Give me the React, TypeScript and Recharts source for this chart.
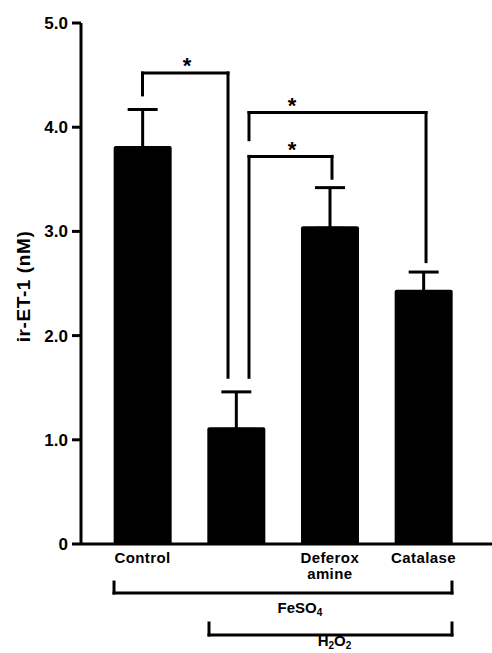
import { BarChart, Bar, XAxis, YAxis, ErrorBar, ReferenceLine, ReferenceDot } from "recharts";

const categories = ["Control", "", "Deferox\namine", "Catalase"];
const positions = [1, 2, 3, 4];
const means = [3.82, 1.12, 3.05, 2.44];
const sems = [0.35, 0.34, 0.37, 0.17];
const yTicks = [0, 1, 2, 3, 4, 5];

// significance brackets: [xLeft, xRight, yTop, yLeftEnd, yRightEnd]
const sigBrackets = [
  [1.0, 1.913, 4.52, 4.31, 1.6],
  [2.137, 4.027, 4.14, 3.88, 2.71],
  [2.137, 3.023, 3.72, 1.6, 3.51],
];
const starX = [1.475, 2.596, 2.596];
const starY = [4.63, 4.24, 3.82];

// treatment brackets under the x axis
const groupNames = ["FeSO", "H"];
const groupX1 = [0.696, 1.71];
const groupX2 = [4.304, 4.304];
const groupTop = [-0.365, -0.758];
const groupBottom = [-0.47, -0.873];
const groupLabelX = [2.681, 3.05];
const groupLabelY = [-0.662, -0.98];

const FONT = "'Liberation Sans', Arial, Helvetica, sans-serif";

const data = positions.map((pos, i) => ({
  pos,
  name: categories[i],
  value: means[i],
  // lower arm kept just inside the bar so its cap stays hidden
  err: [0.02, sems[i]],
}));

const segments: { x1: number; y1: number; x2: number; y2: number }[] = [];
sigBrackets.forEach(([xl, xr, top, yl, yr]) => {
  segments.push({ x1: xl, y1: yl, x2: xl, y2: top });
  segments.push({ x1: xl, y1: top, x2: xr, y2: top });
  segments.push({ x1: xr, y1: top, x2: xr, y2: yr });
});
groupNames.forEach((_, i) => {
  segments.push({ x1: groupX1[i], y1: groupTop[i], x2: groupX1[i], y2: groupBottom[i] });
  segments.push({ x1: groupX1[i], y1: groupBottom[i], x2: groupX2[i], y2: groupBottom[i] });
  segments.push({ x1: groupX2[i], y1: groupBottom[i], x2: groupX2[i], y2: groupTop[i] });
});

const CategoryTick = (props: any) => {
  const { x, y, payload } = props;
  const idx = positions.indexOf(payload.value);
  const lines = (categories[idx] || "").split("\n");
  return (
    <text
      x={x}
      y={y}
      textAnchor="middle"
      fontFamily={FONT}
      fontWeight="bold"
      fontSize={15}
      letterSpacing={0.4}
      fill="#000"
    >
      {lines.map((l, i) => (
        <tspan key={i} x={x} dy={i === 0 ? 19 : 16}>
          {l}
        </tspan>
      ))}
    </text>
  );
};

const GroupLabel = (i: number) => (p: any) => (
  <text x={p.cx} y={p.cy} textAnchor="middle" fontFamily={FONT} fontWeight="bold" fontSize={15} fill="#000">
    {i === 0 ? (
      <>
        FeSO<tspan fontSize={10} dy={3}>4</tspan>
      </>
    ) : (
      <>
        H<tspan fontSize={10} dy={3}>2</tspan>
        <tspan dy={-3}>O</tspan>
        <tspan fontSize={10} dy={3}>2</tspan>
      </>
    )}
  </text>
);

const Star = (p: any) => (
  <text x={p.cx} y={p.cy + 11} textAnchor="middle" fontFamily={FONT} fontWeight="bold" fontSize={22} fill="#000">
    *
  </text>
);

const YLabel = (props: any) => {
  const { viewBox } = props;
  const x = viewBox.x + 23;
  const y = viewBox.y + viewBox.height / 2 + 3;
  return (
    <text
      x={x}
      y={y}
      transform={`rotate(-90, ${x}, ${y})`}
      textAnchor="middle"
      dominantBaseline="central"
      fontFamily={FONT}
      fontWeight="bold"
      fontSize={19}
      letterSpacing={0.6}
      fill="#000"
    >
      ir-ET-1 (nM)
    </text>
  );
};

export default function App() {
  return (
    <div style={{ position: "absolute", left: 0, top: 0, background: "#fff" }}>
      <BarChart width={492} height={653} data={data} margin={{ top: 23, right: 0, bottom: 0, left: 0 }}>
        <XAxis
          type="number"
          dataKey="pos"
          domain={[0.3435, 4.7313]}
          allowDataOverflow
          ticks={positions}
          tick={<CategoryTick />}
          tickLine={false}
          tickSize={0}
          tickMargin={0}
          height={109}
          axisLine={{ stroke: "#000", strokeWidth: 3 }}
        />
        <YAxis
          domain={[0, 5]}
          ticks={yTicks}
          width={81}
          tickSize={9}
          tickMargin={4}
          tickFormatter={(v: number) => (v === 0 ? "0" : v.toFixed(1))}
          tick={{ fill: "#000", fontFamily: FONT, fontWeight: "bold", fontSize: 17 }}
          tickLine={{ stroke: "#000", strokeWidth: 3 }}
          axisLine={{ stroke: "#000", strokeWidth: 3 }}
          label={<YLabel />}
        />
        <Bar dataKey="value" fill="#000" barSize={58} radius={[2, 2, 0, 0]} isAnimationActive={false}>
          <ErrorBar dataKey="err" direction="y" width={15} stroke="#000" strokeWidth={3} isAnimationActive={false} />
        </Bar>
        {segments.map((s, i) => (
          <ReferenceLine
            key={`seg-${i}`}
            segment={[
              { x: s.x1, y: s.y1 },
              { x: s.x2, y: s.y2 },
            ]}
            stroke="#000"
            strokeWidth={3}
            strokeLinecap="square"
            ifOverflow="visible"
          />
        ))}
        {starX.map((x, i) => (
          <ReferenceDot key={`star-${i}`} x={x} y={starY[i]} r={0} ifOverflow="visible" shape={Star} />
        ))}
        {groupNames.map((n, i) => (
          <ReferenceDot
            key={`grp-${n}`}
            x={groupLabelX[i]}
            y={groupLabelY[i]}
            r={0}
            ifOverflow="visible"
            shape={GroupLabel(i)}
          />
        ))}
      </BarChart>
    </div>
  );
}
